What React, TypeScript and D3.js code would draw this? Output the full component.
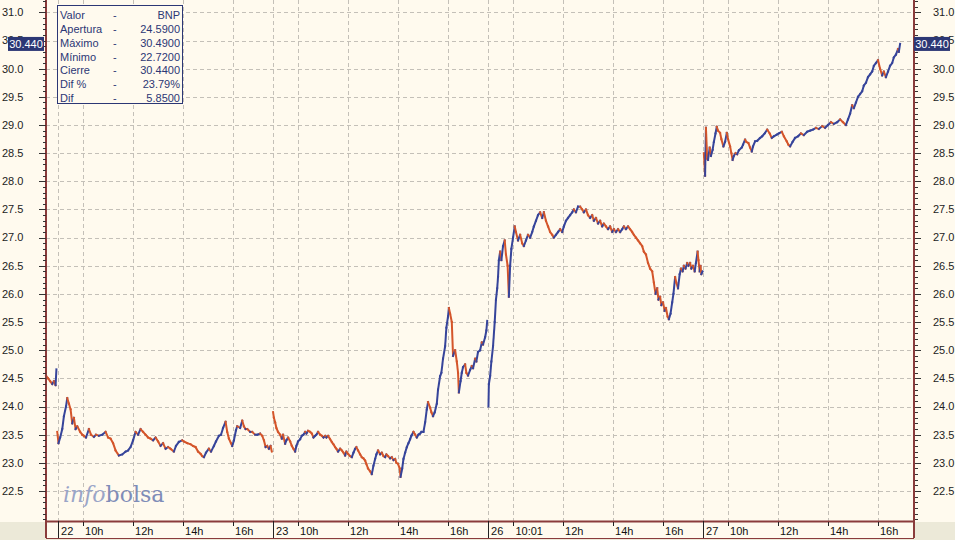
import React from "react";
import * as d3 from "d3";

// ---------- DATA (minutes since 09:00 of each session, price) ----------
const dayLabels = ["22", "23", "26", "27"];
const hourTickMinutes = [60, 180, 300, 420];
const hourTickLabels = ["10h", "12h", "14h", "16h"];
const firstTickMinutes = [60, 60, 61, 60];
const firstTickLabels = ["10h", "10h", "10:01", "10h"];

const yTickValues = [22.5, 23, 23.5, 24, 24.5, 25, 25.5, 26, 26.5, 27, 27.5, 28, 28.5, 29, 29.5, 30, 30.5, 31];

const infoLabels = ["Valor", "Apertura", "Máximo", "Mínimo", "Cierre", "Dif %", "Dif"];
const infoValues = ["BNP", "24.5900", "30.4900", "22.7200", "30.4400", "23.79%", "5.8500"];
const lastPrice = 30.44;

const day22Pre: [number, number][] = [
  [-29, 24.55], [-24, 24.5], [-19, 24.45], [-14, 24.4], [-10, 24.45], [-6, 24.38], [-4, 24.66],
];

const day22: [number, number][] = [
  [-2, 23.55], [1, 23.35], [5, 23.45], [10, 23.6], [14, 23.83], [19, 24.0], [22, 24.15], [26, 24.05],
  [30, 23.95], [34, 23.7], [38, 23.8], [42, 23.6], [46, 23.65], [53, 23.55], [58, 23.5], [62, 23.48],
  [67, 23.45], [74, 23.6], [79, 23.5], [86, 23.46], [91, 23.5], [98, 23.48], [106, 23.5], [114, 23.55],
  [120, 23.45], [126, 23.43], [132, 23.35], [138, 23.22], [146, 23.13], [154, 23.15], [162, 23.2],
  [168, 23.22], [174, 23.28], [180, 23.4], [186, 23.55], [192, 23.5], [198, 23.6], [204, 23.55],
  [210, 23.5], [216, 23.45], [222, 23.43], [228, 23.4], [234, 23.45], [240, 23.38], [246, 23.3],
  [252, 23.35], [258, 23.25], [264, 23.28], [270, 23.25], [278, 23.2], [283, 23.3], [290, 23.37],
  [298, 23.4], [302, 23.38], [310, 23.35], [318, 23.33], [324, 23.3], [330, 23.28], [336, 23.2],
  [342, 23.16], [346, 23.12], [350, 23.1], [355, 23.18], [362, 23.25], [367, 23.2], [374, 23.3],
  [379, 23.38], [386, 23.48], [391, 23.5], [396, 23.62], [402, 23.73], [406, 23.55], [410, 23.43],
  [415, 23.35], [418, 23.3], [422, 23.4], [427, 23.58], [430, 23.65], [437, 23.62], [442, 23.75],
  [446, 23.65], [450, 23.6], [454, 23.6], [461, 23.55], [466, 23.55], [473, 23.5], [478, 23.5],
  [485, 23.52], [490, 23.48], [494, 23.4], [498, 23.28], [502, 23.3], [506, 23.25], [510, 23.3],
  [513, 23.2],
];

const day23: [number, number][] = [
  [0, 23.9], [2, 23.8], [5, 23.72], [8, 23.62], [12, 23.55], [17, 23.5], [21, 23.43], [24, 23.5],
  [29, 23.34], [32, 23.4], [36, 23.45], [41, 23.38], [45, 23.3], [49, 23.25], [53, 23.2], [56, 23.3],
  [60, 23.38], [65, 23.42], [69, 23.48], [73, 23.5], [77, 23.55], [80, 23.52], [84, 23.57], [89, 23.55],
  [93, 23.52], [97, 23.45], [101, 23.48], [104, 23.5], [108, 23.55], [113, 23.5], [117, 23.48],
  [121, 23.45], [125, 23.48], [128, 23.45], [132, 23.48], [137, 23.42], [141, 23.37], [145, 23.33],
  [149, 23.28], [152, 23.25], [156, 23.2], [161, 23.25], [165, 23.22], [169, 23.18], [173, 23.13],
  [176, 23.2], [180, 23.16], [185, 23.12], [189, 23.1], [193, 23.18], [197, 23.25], [200, 23.28],
  [204, 23.22], [209, 23.15], [213, 23.1], [217, 23.08], [221, 23.04], [224, 22.98], [228, 22.9],
  [233, 22.85], [237, 22.8], [241, 22.95], [245, 23.07], [248, 23.15], [252, 23.22], [257, 23.15],
  [261, 23.18], [265, 23.12], [269, 23.1], [272, 23.15], [276, 23.12], [281, 23.08], [285, 23.1],
  [289, 23.05], [293, 23.07], [296, 23.0], [300, 22.98], [304, 22.9], [306, 22.75], [310, 22.9],
  [313, 23.07], [317, 23.18], [321, 23.28], [325, 23.35], [329, 23.42], [332, 23.48], [337, 23.55],
  [341, 23.5], [345, 23.45], [349, 23.5], [353, 23.52], [356, 23.55], [361, 23.55], [365, 23.72],
  [369, 23.95], [372, 24.08], [377, 23.98], [380, 23.9], [384, 23.83], [388, 23.9], [393, 24.05],
  [396, 24.3], [401, 24.54], [404, 24.6], [408, 24.85], [413, 25.07], [416, 25.4], [420, 25.6],
  [422, 25.75], [425, 25.65], [429, 25.5], [432, 24.9], [437, 25.0], [441, 24.8], [444, 24.6],
  [446, 24.25], [450, 24.45], [453, 24.6], [456, 24.7], [461, 24.75], [464, 24.6], [468, 24.55],
  [473, 24.65], [477, 24.72], [480, 24.68], [485, 24.85], [488, 24.8], [492, 24.97], [497, 25.0],
  [501, 25.14], [504, 25.1], [509, 25.23], [512, 25.35], [514, 25.52],
];

const day26: [number, number][] = [
  [1, 24.0], [2, 24.4], [5, 24.54], [8, 24.8], [12, 25.07], [16, 25.5], [19, 25.9], [22, 26.1],
  [24, 26.3], [26, 26.6], [29, 26.75], [32, 26.6], [36, 26.85], [40, 26.95], [43, 26.7], [47, 26.5],
  [50, 25.95], [53, 26.5], [56, 26.8], [60, 27.0], [64, 27.2], [67, 27.1], [72, 26.95], [77, 27.05],
  [82, 26.9], [86, 26.85], [91, 26.95], [96, 27.05], [101, 27.0], [106, 27.1], [110, 27.2],
  [115, 27.3], [120, 27.4], [125, 27.45], [130, 27.35], [134, 27.45], [139, 27.3], [144, 27.2],
  [149, 27.1], [154, 27.05], [158, 27.0], [163, 27.05], [168, 27.1], [173, 27.15], [178, 27.1],
  [182, 27.2], [187, 27.3], [192, 27.35], [197, 27.4], [202, 27.45], [206, 27.5], [211, 27.45],
  [216, 27.55], [221, 27.55], [226, 27.5], [230, 27.45], [235, 27.5], [240, 27.4], [245, 27.35],
  [250, 27.4], [254, 27.3], [259, 27.35], [264, 27.25], [269, 27.3], [274, 27.2], [278, 27.25],
  [283, 27.2], [288, 27.15], [293, 27.2], [298, 27.1], [302, 27.15], [307, 27.1], [312, 27.15],
  [317, 27.1], [322, 27.15], [326, 27.2], [331, 27.15], [336, 27.2], [341, 27.15], [346, 27.1],
  [350, 27.05], [355, 27.0], [360, 26.95], [365, 26.9], [370, 26.85], [374, 26.75], [379, 26.7],
  [384, 26.55], [389, 26.45], [394, 26.4], [398, 26.2], [402, 26.0], [406, 26.1], [409, 25.9],
  [413, 25.95], [416, 25.8], [420, 25.85], [424, 25.7], [427, 25.75], [431, 25.6], [434, 25.55],
  [438, 25.65], [442, 25.85], [445, 26.0], [449, 26.3], [452, 26.2], [456, 26.1], [460, 26.35],
  [463, 26.45], [467, 26.4], [470, 26.5], [474, 26.45], [478, 26.55], [481, 26.5], [485, 26.55],
  [488, 26.45], [492, 26.5], [496, 26.4], [499, 26.55], [503, 26.75], [505, 26.6], [508, 26.4],
  [510, 26.5], [512, 26.35], [515, 26.4],
];

const day27: [number, number][] = [
  [2, 28.5], [5, 28.1], [7, 28.95], [10, 28.4], [12, 28.38], [16, 28.6], [19, 28.45], [23, 28.56],
  [26, 28.7], [30, 28.85], [33, 28.97], [36, 28.9], [41, 28.86], [44, 28.75], [49, 28.62], [53, 28.7],
  [57, 28.86], [60, 28.75], [65, 28.62], [68, 28.5], [71, 28.38], [74, 28.45], [78, 28.5], [82, 28.48],
  [86, 28.55], [93, 28.6], [96, 28.65], [101, 28.74], [104, 28.7], [109, 28.68], [113, 28.6],
  [117, 28.53], [120, 28.62], [125, 28.71], [130, 28.72], [137, 28.77], [142, 28.8], [148, 28.85],
  [154, 28.92], [160, 28.85], [165, 28.77], [170, 28.8], [177, 28.83], [182, 28.85], [189, 28.88],
  [194, 28.8], [201, 28.71], [205, 28.65], [209, 28.62], [215, 28.7], [221, 28.77], [228, 28.8],
  [235, 28.85], [242, 28.82], [250, 28.88], [257, 28.9], [264, 28.92], [271, 28.95], [278, 28.93],
  [286, 28.98], [293, 28.95], [300, 29.0], [307, 29.05], [314, 29.02], [322, 29.05], [329, 29.1],
  [336, 29.05], [343, 29.0], [348, 29.1], [353, 29.2], [358, 29.35], [362, 29.3], [367, 29.4],
  [372, 29.5], [377, 29.55], [382, 29.6], [386, 29.7], [391, 29.75], [396, 29.85], [401, 29.9],
  [406, 29.95], [410, 30.05], [415, 30.1], [420, 30.15], [425, 30.0], [430, 29.88], [434, 29.95],
  [439, 29.85], [444, 29.95], [449, 30.05], [454, 30.1], [458, 30.2], [463, 30.25], [468, 30.35],
  [470, 30.3], [473, 30.44],
];

const sessions: { day: number; pts: [number, number][] }[] = [
  { day: 0, pts: day22Pre },
  { day: 0, pts: day22 },
  { day: 1, pts: day23 },
  { day: 2, pts: day26 },
  { day: 3, pts: day27 },
];

// ---------- LAYOUT ----------
const W = 955;
const H = 540;
const MIN_PER_DAY = 516;
const L = 46;
const R = 913;
const B = 521;
const BAND = 538;
const FONT = "'Liberation Sans', Arial, sans-serif";
const AXIS = "#8a3b3b";
const UP = "#36449a";
const DOWN = "#d4552a";
const NAVY = "#2c3775";
const BG = "#fffaee";
const GRAY = "#ece9d8";

export default function App() {
  const x = d3.scaleLinear().domain([-29, 2052]).range([L, R]);
  const y = d3.scaleLinear().domain([22.5, 31]).range([491, 12.4]);
  const T = (day: number, m: number) => x(day * MIN_PER_DAY + m);

  const minor = d3.range(220, 313).map((v) => v / 10).filter((v) => y(v) >= 0 && y(v) <= B);

  const segs: { x1: number; y1: number; x2: number; y2: number; c: string }[] = [];
  sessions.forEach((s) => {
    for (let i = 1; i < s.pts.length; i++) {
      const a = s.pts[i - 1];
      const b = s.pts[i];
      segs.push({
        x1: T(s.day, a[0]),
        y1: y(a[1]),
        x2: T(s.day, b[0]),
        y2: y(b[1]),
        c: b[1] >= a[1] ? UP : DOWN,
      });
    }
  });

  const vGrid: number[] = [];
  dayLabels.forEach((_, d) => {
    vGrid.push(T(d, 0));
    hourTickMinutes.forEach((m, i) => vGrid.push(T(d, i === 0 ? firstTickMinutes[d] : m)));
  });

  return (
    <div style={{ position: "fixed", left: 0, top: 0, width: W, height: H }}>
      <svg width={W} height={H} style={{ display: "block", fontFamily: FONT }}>
        <rect x={0} y={0} width={W} height={H} fill={BG} />
        <rect x={0} y={B + 1} width={L} height={H - B} fill={GRAY} />
        <rect x={R + 1} y={B + 1} width={W - R} height={H - B} fill={GRAY} />
        <rect x={0} y={BAND + 1} width={W} height={H - BAND} fill={GRAY} />

        {/* horizontal grid */}
        {yTickValues.map((v) => (
          <line key={"hg" + v} x1={L} x2={R} y1={Math.round(y(v)) + 0.5} y2={Math.round(y(v)) + 0.5}
            stroke="#c4c0b8" strokeDasharray="4,3" />
        ))}
        {/* vertical grid */}
        {vGrid.map((gx, i) => (
          <line key={"vg" + i} x1={Math.round(gx) + 0.5} x2={Math.round(gx) + 0.5} y1={0} y2={B}
            stroke="#c4c0b8" strokeDasharray="4,3" />
        ))}

        {/* price series */}
        {segs.map((s, i) => (
          <line key={"s" + i} x1={s.x1} y1={s.y1} x2={s.x2} y2={s.y2} stroke={s.c} strokeWidth={2}
            strokeLinecap="square" />
        ))}

        {/* logo */}
        <text x={63} y={502} fontFamily="'DejaVu Serif', 'Liberation Serif', serif" fontSize={22}
          fill="#9aa5c8">
          <tspan fontStyle="italic">info</tspan>
          <tspan fill="#7f8db8">bolsa</tspan>
        </text>

        {/* left axis */}
        <line x1={L} x2={L} y1={0} y2={BAND} stroke={AXIS} strokeWidth={2} />
        {minor.map((v) => (
          <line key={"lm" + v} x1={L - 3} x2={L} y1={Math.round(y(v)) + 0.5} y2={Math.round(y(v)) + 0.5}
            stroke="#333" />
        ))}
        {yTickValues.map((v) => (
          <g key={"ly" + v}>
            <line x1={L - 7} x2={L} y1={Math.round(y(v)) + 0.5} y2={Math.round(y(v)) + 0.5} stroke="#333" />
            <text x={2} y={y(v)} dy="0.35em" fontSize={11} fill="#222">{v.toFixed(1)}</text>
          </g>
        ))}

        {/* right axis */}
        <line x1={R + 1} x2={R + 1} y1={0} y2={BAND} stroke={AXIS} strokeWidth={2} />
        {minor.map((v) => (
          <line key={"rm" + v} x1={R + 2} x2={R + 5} y1={Math.round(y(v)) + 0.5} y2={Math.round(y(v)) + 0.5}
            stroke="#333" />
        ))}
        {yTickValues.map((v) => (
          <g key={"ry" + v}>
            <line x1={R + 2} x2={R + 8} y1={Math.round(y(v)) + 0.5} y2={Math.round(y(v)) + 0.5} stroke="#333" />
            <text x={933} y={y(v)} dy="0.35em" fontSize={11} fill="#222">{v.toFixed(1)}</text>
          </g>
        ))}

        {/* bottom axis */}
        <line x1={L} x2={R + 1} y1={B + 0.5} y2={B + 0.5} stroke={AXIS} strokeWidth={2} />
        <line x1={L} x2={R + 1} y1={BAND + 0.5} y2={BAND + 0.5} stroke={AXIS} strokeWidth={1} />
        {dayLabels.map((lab, d) => (
          <g key={"d" + lab}>
            <line x1={Math.round(T(d, 0)) + 0.5} x2={Math.round(T(d, 0)) + 0.5} y1={B} y2={BAND} stroke="#222" />
            <text x={T(d, 0) + 3} y={535} fontSize={11} fill="#111">{lab}</text>
            {hourTickMinutes.map((m, i) => {
              const mm = i === 0 ? firstTickMinutes[d] : m;
              const lbl = i === 0 ? firstTickLabels[d] : hourTickLabels[i];
              const tx = T(d, mm);
              return (
                <g key={"h" + i}>
                  <line x1={Math.round(tx) + 0.5} x2={Math.round(tx) + 0.5} y1={B + 1} y2={B + 5} stroke="#222" />
                  <text x={tx + 2} y={535} fontSize={11} fill="#111">{lbl}</text>
                </g>
              );
            })}
          </g>
        ))}

        {/* info box */}
        <rect x={57.5} y={5.5} width={125} height={98} fill={BG} stroke={NAVY} />
        {infoLabels.map((lab, i) => (
          <g key={"i" + lab}>
            <text x={60} y={15 + i * 13.9} dy="0.35em" fontSize={11} fill={NAVY}>{lab}</text>
            <text x={113} y={15 + i * 13.9} dy="0.35em" fontSize={11} fill={NAVY}>-</text>
            <text x={180} y={15 + i * 13.9} dy="0.35em" fontSize={11} fill={NAVY} textAnchor="end">
              {infoValues[i]}
            </text>
          </g>
        ))}

        {/* last price markers */}
        <rect x={8} y={y(lastPrice) - 7} width={36} height={14} fill={NAVY} />
        <text x={26} y={y(lastPrice)} dy="0.35em" fontSize={11} fill="#fff" textAnchor="middle">
          {lastPrice.toFixed(3)}
        </text>
        <rect x={914} y={y(lastPrice) - 7} width={36} height={14} fill={NAVY} />
        <text x={932} y={y(lastPrice)} dy="0.35em" fontSize={11} fill="#fff" textAnchor="middle">
          {lastPrice.toFixed(3)}
        </text>
      </svg>
    </div>
  );
}
